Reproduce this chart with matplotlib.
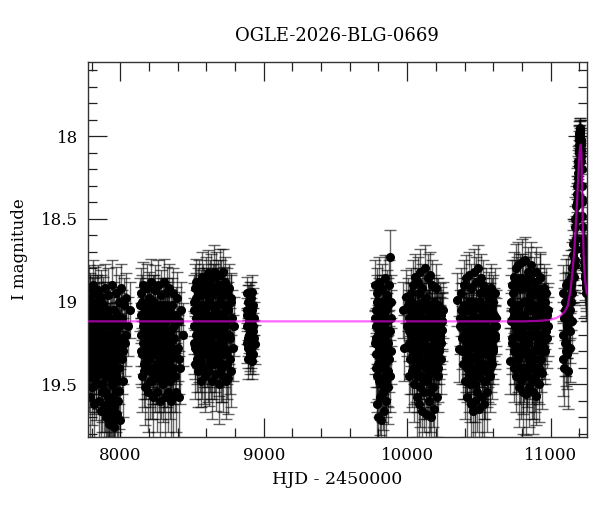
import numpy as np
import matplotlib
matplotlib.use("Agg")
import matplotlib.pyplot as plt
from matplotlib.ticker import MultipleLocator, FormatStrFormatter

# OGLE I-band photometry, one block per bulge season (HJD - 2450000, mag, err)
t1 = [7776, 7778, 7781, 7783, 7786, 7789, 7791, 7794, 7797, 7799,
      7802, 7805, 7807, 7810, 7813, 7816, 7818, 7821, 7824, 7827,
      7830, 7832, 7835, 7838, 7841, 7844, 7847, 7850, 7853, 7856,
      7859, 7862, 7865, 7868, 7871, 7874, 7877, 7880, 7884, 7887,
      7890, 7893, 7897, 7900, 7903, 7907, 7910, 7913, 7917, 7920,
      7924, 7927, 7931, 7934, 7938, 7941, 7945, 7949, 7952, 7956,
      7960, 7964, 7967, 7971, 7975, 7979, 7983, 7987, 7991, 7995,
      8000, 8004, 8009, 8014, 8020, 8026, 8033, 8041, 8050, 8064,
      7777, 7780, 7785, 7788, 7793, 7796, 7800, 7804, 7808, 7812,
      7817, 7820, 7825, 7828, 7833, 7837, 7840, 7845, 7849, 7852,
      7857, 7861, 7864, 7869, 7873, 7876, 7881, 7886, 7889, 7894,
      7898, 7902, 7905, 7909, 7914, 7918, 7922, 7926, 7929, 7933,
      7936, 7940, 7944, 7947, 7951, 7954, 7958, 7962, 7966, 7969,
      7973, 7977, 7981, 7985, 7989, 7993, 7998, 8007, 8017, 8037]
m1 = [19.05, 19.32, 18.92, 19.45, 19.12, 19.58, 18.98, 19.22, 19.38, 19.02,
      19.52, 19.15, 18.90, 19.28, 19.46, 19.08, 19.62, 19.20, 18.95, 19.35,
      19.10, 19.50, 19.00, 19.25, 19.42, 18.93, 19.18, 19.60, 19.05, 19.32,
      19.12, 19.66, 18.97, 19.40, 19.22, 19.55, 19.02, 19.30, 19.64, 19.15,
      18.92, 19.45, 19.25, 19.70, 19.08, 19.35, 19.58, 18.96, 19.20, 19.74,
      19.40, 19.10, 19.62, 19.28, 18.90, 19.50, 19.72, 19.15, 19.38, 19.76,
      19.60, 19.25, 19.45, 18.95, 19.68, 19.32, 19.12, 19.54, 19.00, 19.72,
      19.22, 18.92, 19.35, 19.10, 19.48, 19.02, 19.25, 18.98, 19.15, 19.05,
      19.20, 19.10, 19.35, 19.00, 19.28, 19.15, 19.42, 19.08, 19.25, 19.38,
      19.02, 19.30, 19.18, 19.45, 19.12, 19.22, 19.05, 19.40, 19.28, 19.14,
      19.35, 19.00, 19.25, 19.50, 19.10, 19.42, 19.20, 19.04, 19.32, 19.55,
      19.15, 19.38, 19.62, 19.05, 19.28, 19.45, 19.58, 19.20, 19.66, 19.32,
      19.12, 19.50, 19.70, 19.22, 19.42, 19.05, 19.64, 19.35, 19.55, 19.18,
      19.48, 19.08, 19.30, 19.60, 19.15, 19.40, 19.28, 19.12, 19.30, 19.20]
e1 = [0.16, 0.20, 0.14, 0.22, 0.18, 0.24, 0.15, 0.19, 0.21, 0.17,
      0.23, 0.18, 0.15, 0.20, 0.22, 0.17, 0.25, 0.19, 0.16, 0.21,
      0.18, 0.22, 0.16, 0.20, 0.23, 0.15, 0.19, 0.24, 0.17, 0.21,
      0.18, 0.25, 0.16, 0.22, 0.19, 0.24, 0.17, 0.20, 0.26, 0.18,
      0.15, 0.22, 0.20, 0.26, 0.17, 0.21, 0.24, 0.16, 0.19, 0.27,
      0.22, 0.17, 0.25, 0.20, 0.15, 0.23, 0.26, 0.18, 0.21, 0.27,
      0.24, 0.19, 0.22, 0.16, 0.25, 0.20, 0.18, 0.23, 0.16, 0.26,
      0.19, 0.15, 0.21, 0.17, 0.22, 0.16, 0.20, 0.15, 0.18, 0.17,
      0.19, 0.17, 0.21, 0.16, 0.20, 0.18, 0.22, 0.17, 0.19, 0.21,
      0.16, 0.20, 0.18, 0.22, 0.17, 0.19, 0.16, 0.22, 0.20, 0.18,
      0.21, 0.16, 0.19, 0.23, 0.17, 0.22, 0.19, 0.16, 0.20, 0.24,
      0.18, 0.21, 0.25, 0.17, 0.20, 0.22, 0.24, 0.19, 0.25, 0.21,
      0.18, 0.23, 0.26, 0.19, 0.22, 0.17, 0.25, 0.21, 0.24, 0.18,
      0.23, 0.17, 0.20, 0.24, 0.18, 0.22, 0.20, 0.17, 0.20, 0.19]

t2 = [8138, 8142, 8146, 8150, 8154, 8158, 8162, 8166, 8170, 8174,
      8178, 8182, 8186, 8190, 8194, 8198, 8202, 8206, 8210, 8214,
      8218, 8222, 8226, 8230, 8234, 8238, 8242, 8246, 8250, 8254,
      8258, 8262, 8266, 8270, 8274, 8278, 8282, 8286, 8290, 8294,
      8298, 8302, 8306, 8310, 8314, 8318, 8322, 8326, 8330, 8334,
      8338, 8342, 8346, 8350, 8354, 8358, 8362, 8366, 8370, 8375,
      8380, 8385, 8390, 8395, 8400, 8406, 8412, 8418, 8425, 8433,
      8140, 8144, 8148, 8152, 8156, 8160, 8164, 8168, 8172, 8176,
      8180, 8184, 8188, 8192, 8196, 8200, 8204, 8208, 8212, 8216,
      8220, 8224, 8228, 8232, 8236, 8240, 8244, 8248, 8252, 8256,
      8260, 8264, 8268, 8272, 8276, 8280, 8284, 8288, 8292, 8296,
      8300, 8304, 8308, 8312, 8316, 8320, 8324, 8328, 8332, 8336,
      8340, 8344, 8348, 8352, 8356, 8360, 8364, 8372, 8388, 8410]
m2 = [19.02, 19.30, 18.95, 19.45, 19.12, 18.90, 19.38, 19.20, 19.05, 19.52,
      19.15, 18.92, 19.35, 19.25, 19.55, 18.98, 19.10, 19.42, 19.28, 18.88,
      19.48, 19.18, 19.00, 19.58, 19.32, 19.08, 18.93, 19.40, 19.22, 19.55,
      19.12, 18.90, 19.45, 19.28, 19.60, 19.02, 19.35, 18.96, 19.20, 19.50,
      19.15, 18.88, 19.42, 19.58, 19.05, 19.30, 18.94, 19.25, 19.55, 19.10,
      19.38, 18.92, 19.48, 19.18, 19.60, 19.02, 19.32, 18.95, 19.58, 19.22,
      19.45, 19.08, 19.55, 18.98, 19.28, 19.58, 19.12, 19.40, 19.05, 19.20,
      19.20, 19.08, 19.32, 19.00, 19.25, 19.15, 19.42, 19.05, 19.30, 19.18,
      19.38, 19.10, 19.22, 19.02, 19.35, 19.28, 19.12, 19.48, 19.05, 19.32,
      19.22, 19.40, 19.10, 19.30, 19.00, 19.45, 19.15, 19.26, 19.38, 19.08,
      19.32, 19.18, 19.04, 19.40, 19.12, 19.48, 19.22, 19.10, 19.35, 19.02,
      19.28, 19.45, 19.08, 19.20, 19.38, 19.12, 19.02, 19.42, 19.30, 19.18,
      19.05, 19.35, 19.25, 19.45, 19.10, 19.28, 19.40, 19.15, 19.30, 19.35]
e2 = [0.16, 0.20, 0.15, 0.22, 0.18, 0.14, 0.21, 0.19, 0.17, 0.23,
      0.18, 0.15, 0.21, 0.19, 0.24, 0.16, 0.18, 0.22, 0.20, 0.14,
      0.23, 0.18, 0.16, 0.25, 0.21, 0.17, 0.15, 0.22, 0.19, 0.24,
      0.18, 0.15, 0.22, 0.20, 0.25, 0.16, 0.21, 0.15, 0.19, 0.23,
      0.18, 0.14, 0.22, 0.25, 0.17, 0.20, 0.15, 0.19, 0.24, 0.17,
      0.21, 0.15, 0.23, 0.18, 0.26, 0.16, 0.21, 0.15, 0.25, 0.19,
      0.22, 0.17, 0.24, 0.16, 0.20, 0.25, 0.18, 0.22, 0.17, 0.19,
      0.19, 0.17, 0.20, 0.16, 0.19, 0.18, 0.22, 0.17, 0.20, 0.18,
      0.21, 0.17, 0.19, 0.16, 0.21, 0.20, 0.18, 0.23, 0.17, 0.20,
      0.19, 0.22, 0.17, 0.20, 0.16, 0.22, 0.18, 0.19, 0.21, 0.17,
      0.20, 0.18, 0.16, 0.22, 0.17, 0.23, 0.19, 0.17, 0.21, 0.16,
      0.20, 0.22, 0.17, 0.19, 0.21, 0.18, 0.16, 0.22, 0.20, 0.18,
      0.17, 0.21, 0.19, 0.22, 0.17, 0.20, 0.22, 0.18, 0.20, 0.21]

t3 = [8510, 8514, 8518, 8522, 8526, 8530, 8534, 8538, 8542, 8546,
      8550, 8554, 8558, 8561, 8565, 8569, 8573, 8577, 8581, 8585,
      8589, 8593, 8597, 8601, 8605, 8609, 8613, 8617, 8621, 8625,
      8629, 8633, 8637, 8641, 8645, 8649, 8653, 8657, 8661, 8665,
      8669, 8673, 8677, 8681, 8685, 8689, 8693, 8697, 8701, 8705,
      8709, 8713, 8717, 8721, 8725, 8729, 8733, 8737, 8741, 8745,
      8749, 8753, 8757, 8761, 8765, 8769, 8774, 8779, 8784, 8789,
      8512, 8516, 8520, 8524, 8528, 8532, 8536, 8540, 8544, 8548,
      8552, 8556, 8560, 8563, 8567, 8571, 8575, 8579, 8583, 8587,
      8591, 8595, 8599, 8603, 8607, 8611, 8615, 8619, 8623, 8627,
      8631, 8635, 8639, 8643, 8647, 8651, 8655, 8659, 8663, 8667,
      8671, 8675, 8679, 8683, 8687, 8691, 8695, 8699, 8703, 8707,
      8711, 8715, 8719, 8723, 8727, 8731, 8735, 8743, 8755, 8771]
m3 = [19.00, 19.25, 18.92, 19.38, 19.10, 18.88, 19.30, 19.15, 19.42, 19.02,
      18.90, 19.35, 19.20, 19.48, 19.05, 18.85, 19.28, 19.12, 19.40, 18.95,
      19.22, 19.45, 18.88, 19.08, 19.32, 18.83, 19.18, 19.42, 19.00, 19.26,
      18.86, 19.38, 19.12, 19.48, 18.92, 19.20, 18.82, 19.35, 19.05, 19.44,
      18.85, 19.15, 19.30, 18.90, 19.50, 19.08, 18.84, 19.25, 19.40, 18.96,
      19.18, 18.82, 19.45, 19.02, 19.32, 18.88, 19.48, 19.12, 18.95, 19.38,
      19.05, 19.46, 18.92, 19.22, 19.35, 19.00, 19.42, 19.10, 19.28, 19.15,
      19.15, 19.05, 19.28, 18.98, 19.20, 19.10, 19.35, 18.95, 19.22, 19.30,
      19.08, 19.18, 18.96, 19.25, 19.38, 19.02, 19.15, 18.92, 19.32, 19.12,
      19.05, 19.30, 19.15, 18.95, 19.22, 19.40, 19.00, 19.12, 19.35, 18.90,
      19.25, 19.02, 19.30, 18.95, 19.15, 19.38, 19.08, 18.92, 19.28, 19.18,
      19.02, 19.32, 18.95, 19.20, 19.10, 19.36, 19.00, 19.15, 18.90, 19.25,
      19.40, 19.08, 19.28, 18.94, 19.15, 19.22, 19.05, 19.30, 19.20, 18.98]
e3 = [0.16, 0.19, 0.15, 0.21, 0.17, 0.14, 0.20, 0.17, 0.22, 0.16,
      0.15, 0.20, 0.18, 0.16, 0.17, 0.15, 0.19, 0.17, 0.22, 0.15,
      0.18, 0.22, 0.15, 0.17, 0.20, 0.14, 0.18, 0.21, 0.16, 0.19,
      0.15, 0.21, 0.17, 0.23, 0.15, 0.18, 0.16, 0.20, 0.17, 0.22,
      0.15, 0.17, 0.20, 0.15, 0.24, 0.17, 0.16, 0.19, 0.21, 0.15,
      0.18, 0.14, 0.22, 0.16, 0.20, 0.15, 0.23, 0.17, 0.15, 0.21,
      0.17, 0.22, 0.15, 0.18, 0.21, 0.16, 0.22, 0.17, 0.20, 0.18,
      0.17, 0.16, 0.19, 0.15, 0.18, 0.17, 0.20, 0.15, 0.18, 0.19,
      0.16, 0.18, 0.15, 0.19, 0.21, 0.16, 0.17, 0.15, 0.20, 0.17,
      0.16, 0.20, 0.17, 0.15, 0.18, 0.21, 0.16, 0.17, 0.20, 0.15,
      0.19, 0.16, 0.20, 0.15, 0.17, 0.21, 0.16, 0.15, 0.19, 0.18,
      0.16, 0.20, 0.15, 0.18, 0.17, 0.21, 0.16, 0.17, 0.15, 0.19,
      0.21, 0.16, 0.19, 0.15, 0.17, 0.18, 0.16, 0.20, 0.18, 0.15]

t4 = [8880, 8883, 8886, 8889, 8892, 8895, 8898, 8901, 8904, 8907,
      8910, 8913, 8916, 8919, 8922, 8925, 8928, 8931, 8934, 8937,
      8881, 8884, 8887, 8890, 8893, 8896, 8899, 8902, 8905, 8908,
      8911, 8914, 8917, 8920, 8923]
m4 = [19.05, 19.25, 18.95, 19.15, 19.35, 19.00, 19.20, 19.30, 18.98, 19.12,
      19.28, 19.08, 19.36, 18.94, 19.18, 19.32, 19.02, 19.22, 19.10, 19.26,
      19.15, 19.08, 19.22, 19.00, 19.28, 19.12, 19.05, 19.18, 19.32, 18.98,
      19.20, 19.10, 19.25, 19.05, 19.15]
e4 = [0.11, 0.12, 0.10, 0.11, 0.12, 0.10, 0.11, 0.12, 0.10, 0.11,
      0.12, 0.10, 0.11, 0.10, 0.11, 0.12, 0.10, 0.11, 0.10, 0.12,
      0.11, 0.10, 0.11, 0.10, 0.12, 0.11, 0.10, 0.11, 0.12, 0.10,
      0.11, 0.10, 0.11, 0.10, 0.11]

t5 = [9776, 9779, 9782, 9785, 9788, 9791, 9794, 9797, 9800, 9803,
      9806, 9809, 9812, 9815, 9818, 9821, 9824, 9827, 9830, 9833,
      9836, 9839, 9842, 9845, 9848, 9851, 9854, 9857, 9860, 9863,
      9866, 9869, 9872, 9875, 9878, 9880, 9883, 9886, 9888, 9890,
      9777, 9780, 9783, 9786, 9789, 9792, 9795, 9798, 9801, 9804,
      9807, 9810, 9813, 9816, 9819, 9822, 9825, 9828, 9831, 9834,
      9837, 9840, 9843, 9846, 9849, 9852, 9855, 9858, 9861, 9864]
m5 = [19.10, 18.90, 19.40, 19.22, 19.62, 18.95, 19.32, 19.70, 19.05, 19.48,
      18.88, 19.28, 19.58, 19.15, 19.72, 19.00, 19.38, 18.92, 19.55, 19.20,
      19.66, 19.08, 19.45, 18.86, 19.30, 19.60, 19.12, 19.42, 18.96, 19.25,
      19.52, 19.02, 19.35, 18.90, 19.18, 18.73, 19.45, 19.10, 19.30, 19.00,
      19.25, 19.05, 19.32, 19.15, 19.45, 19.00, 19.20, 19.38, 19.10, 19.28,
      19.02, 19.40, 19.18, 19.30, 19.08, 19.50, 19.22, 19.12, 19.35, 19.05,
      19.28, 19.15, 19.38, 19.00, 19.48, 19.20, 19.05, 19.32, 19.12, 19.42]
e5 = [0.17, 0.15, 0.21, 0.18, 0.24, 0.15, 0.20, 0.26, 0.16, 0.22,
      0.15, 0.19, 0.23, 0.17, 0.26, 0.16, 0.21, 0.15, 0.23, 0.18,
      0.25, 0.17, 0.22, 0.14, 0.20, 0.24, 0.17, 0.21, 0.15, 0.19,
      0.22, 0.16, 0.20, 0.15, 0.18, 0.16, 0.22, 0.17, 0.20, 0.16,
      0.19, 0.16, 0.20, 0.17, 0.22, 0.16, 0.18, 0.21, 0.17, 0.19,
      0.16, 0.22, 0.18, 0.20, 0.17, 0.23, 0.19, 0.17, 0.21, 0.16,
      0.19, 0.17, 0.21, 0.16, 0.22, 0.18, 0.16, 0.20, 0.17, 0.22]

t6 = [9972, 9980, 9990, 9998, 10004, 10010, 10015, 10020, 10025, 10030,
      10034, 10038, 10042, 10046, 10050, 10054, 10058, 10062, 10066, 10070,
      10074, 10078, 10082, 10086, 10090, 10094, 10098, 10102, 10106, 10110,
      10114, 10118, 10122, 10126, 10130, 10134, 10138, 10142, 10146, 10150,
      10154, 10158, 10162, 10166, 10170, 10174, 10178, 10182, 10186, 10190,
      10194, 10198, 10202, 10206, 10210, 10214, 10218, 10222, 10226, 10230,
      10234, 10238, 10242, 10245, 10248, 10015, 10060, 10120, 10170, 10200,
      10012, 10018, 10022, 10027, 10032, 10036, 10040, 10044, 10048, 10052,
      10056, 10064, 10068, 10072, 10076, 10080, 10084, 10088, 10092, 10096,
      10100, 10104, 10108, 10112, 10116, 10124, 10128, 10132, 10136, 10140,
      10144, 10148, 10152, 10156, 10160, 10164, 10168, 10172, 10176, 10180,
      10184, 10188, 10192, 10196, 10204, 10208, 10212, 10216, 10220, 10224,
      10228, 10232, 10236, 10240, 10110, 10130, 10090, 10150, 10070, 10180]
m6 = [19.05, 19.28, 18.97, 19.15, 19.02, 19.25, 19.10, 19.35, 18.95, 19.20,
      19.42, 19.05, 18.90, 19.30, 19.50, 19.12, 18.85, 19.40, 19.22, 19.58,
      18.88, 19.32, 19.62, 19.08, 18.82, 19.45, 19.18, 19.66, 18.92, 19.38,
      19.55, 19.00, 18.80, 19.28, 19.68, 19.12, 19.48, 18.86, 19.35, 19.60,
      19.05, 18.84, 19.42, 19.70, 19.20, 18.90, 19.52, 19.32, 19.65, 19.00,
      19.40, 18.92, 19.25, 19.58, 19.10, 19.45, 19.02, 19.30, 19.15, 19.22,
      19.08, 19.35, 19.12, 19.17, 19.05, 19.45, 19.25, 19.15, 19.10, 19.30,
      19.18, 19.05, 19.28, 19.12, 19.35, 19.00, 19.25, 19.15, 19.40, 19.08,
      19.30, 19.20, 19.02, 19.45, 19.12, 19.35, 18.95, 19.25, 19.52, 19.10,
      19.38, 19.05, 19.28, 19.15, 19.48, 19.22, 18.98, 19.40, 19.10, 19.32,
      19.18, 19.45, 19.02, 19.28, 19.55, 19.12, 19.35, 19.05, 19.42, 19.22,
      19.15, 19.30, 19.08, 19.25, 19.35, 19.02, 19.20, 19.40, 19.12, 19.28,
      19.20, 19.05, 19.25, 19.12, 19.00, 19.20, 19.30, 19.10, 19.15, 19.38]
e6 = [0.17, 0.20, 0.16, 0.18, 0.16, 0.19, 0.17, 0.21, 0.15, 0.19,
      0.22, 0.16, 0.15, 0.20, 0.23, 0.17, 0.14, 0.21, 0.19, 0.24,
      0.15, 0.20, 0.25, 0.17, 0.14, 0.22, 0.18, 0.26, 0.15, 0.21,
      0.24, 0.16, 0.14, 0.20, 0.26, 0.17, 0.23, 0.15, 0.21, 0.25,
      0.16, 0.14, 0.22, 0.27, 0.19, 0.15, 0.24, 0.20, 0.25, 0.16,
      0.22, 0.15, 0.19, 0.24, 0.17, 0.22, 0.16, 0.20, 0.18, 0.19,
      0.17, 0.21, 0.18, 0.19, 0.17, 0.22, 0.19, 0.18, 0.17, 0.20,
      0.18, 0.16, 0.19, 0.17, 0.21, 0.16, 0.19, 0.17, 0.22, 0.16,
      0.20, 0.18, 0.16, 0.22, 0.17, 0.21, 0.15, 0.19, 0.24, 0.17,
      0.21, 0.16, 0.19, 0.17, 0.23, 0.19, 0.15, 0.22, 0.17, 0.20,
      0.18, 0.22, 0.16, 0.19, 0.24, 0.17, 0.21, 0.16, 0.22, 0.19,
      0.18, 0.20, 0.17, 0.19, 0.21, 0.16, 0.18, 0.21, 0.17, 0.19,
      0.18, 0.16, 0.19, 0.17, 0.16, 0.18, 0.20, 0.17, 0.18, 0.21]

t7 = [10351, 10360, 10368, 10374, 10380, 10386, 10391, 10396, 10400, 10404,
      10408, 10412, 10416, 10420, 10424, 10428, 10432, 10436, 10440, 10444,
      10448, 10452, 10456, 10460, 10464, 10468, 10472, 10476, 10480, 10484,
      10488, 10492, 10496, 10500, 10504, 10508, 10512, 10516, 10520, 10524,
      10528, 10532, 10536, 10540, 10544, 10548, 10552, 10556, 10560, 10564,
      10568, 10572, 10576, 10580, 10584, 10588, 10592, 10596, 10600, 10605,
      10610, 10615, 10620, 10410, 10450, 10490, 10530, 10570, 10470, 10510,
      10370, 10377, 10383, 10388, 10393, 10398, 10402, 10406, 10414, 10418,
      10422, 10426, 10430, 10434, 10438, 10442, 10446, 10454, 10458, 10462,
      10466, 10474, 10478, 10482, 10486, 10494, 10498, 10502, 10506, 10514,
      10518, 10522, 10526, 10534, 10538, 10542, 10546, 10550, 10554, 10558,
      10562, 10566, 10574, 10578, 10582, 10586, 10590, 10594, 10598, 10602,
      10607, 10612, 10617, 10440, 10480, 10520, 10560, 10500, 10460, 10540]
m7 = [18.99, 19.29, 19.10, 18.95, 19.22, 19.38, 19.05, 18.90, 19.30, 19.48,
      19.12, 18.86, 19.40, 19.58, 19.02, 19.25, 18.84, 19.50, 19.15, 19.62,
      18.92, 19.35, 19.66, 19.08, 18.82, 19.45, 19.20, 19.60, 18.88, 19.32,
      19.55, 19.00, 18.80, 19.42, 19.65, 19.15, 18.86, 19.28, 19.58, 19.05,
      19.38, 18.90, 19.62, 19.20, 19.48, 18.95, 19.30, 19.55, 19.10, 19.40,
      18.98, 19.25, 19.45, 19.05, 19.35, 18.92, 19.18, 19.28, 19.00, 19.15,
      19.22, 18.95, 19.10, 19.35, 19.00, 19.25, 19.12, 19.30, 19.45, 18.95,
      19.15, 19.05, 19.30, 19.10, 19.20, 19.02, 19.38, 19.12, 19.25, 19.05,
      19.32, 19.18, 19.45, 19.00, 19.28, 19.12, 19.40, 19.22, 19.05, 19.35,
      19.15, 19.50, 19.02, 19.28, 19.40, 19.10, 19.22, 19.45, 19.00, 19.32,
      19.12, 19.38, 19.25, 19.02, 19.48, 19.15, 19.30, 19.08, 19.42, 19.20,
      19.32, 19.05, 19.18, 19.40, 19.10, 19.25, 19.38, 19.02, 19.20, 19.30,
      19.08, 19.20, 19.15, 19.25, 19.35, 19.18, 19.25, 19.35, 19.10, 19.05]
e7 = [0.16, 0.20, 0.17, 0.15, 0.19, 0.21, 0.16, 0.15, 0.20, 0.23,
      0.17, 0.14, 0.21, 0.24, 0.16, 0.19, 0.14, 0.23, 0.18, 0.25,
      0.15, 0.20, 0.26, 0.17, 0.14, 0.22, 0.18, 0.25, 0.15, 0.20,
      0.24, 0.16, 0.14, 0.21, 0.26, 0.17, 0.15, 0.19, 0.24, 0.16,
      0.21, 0.15, 0.25, 0.18, 0.23, 0.15, 0.20, 0.24, 0.17, 0.21,
      0.16, 0.19, 0.22, 0.16, 0.20, 0.15, 0.18, 0.19, 0.16, 0.18,
      0.19, 0.15, 0.17, 0.20, 0.16, 0.19, 0.17, 0.20, 0.22, 0.15,
      0.17, 0.16, 0.20, 0.17, 0.18, 0.16, 0.21, 0.17, 0.19, 0.16,
      0.20, 0.18, 0.22, 0.16, 0.19, 0.17, 0.22, 0.19, 0.16, 0.21,
      0.17, 0.23, 0.16, 0.19, 0.22, 0.17, 0.19, 0.22, 0.16, 0.20,
      0.17, 0.21, 0.19, 0.16, 0.23, 0.17, 0.20, 0.16, 0.22, 0.18,
      0.20, 0.16, 0.18, 0.22, 0.17, 0.19, 0.21, 0.16, 0.18, 0.20,
      0.16, 0.18, 0.17, 0.19, 0.21, 0.18, 0.19, 0.21, 0.17, 0.16]

t8 = [10716, 10722, 10728, 10733, 10738, 10742, 10746, 10750, 10754, 10758,
      10762, 10766, 10770, 10774, 10778, 10782, 10786, 10790, 10794, 10798,
      10802, 10806, 10810, 10814, 10818, 10822, 10826, 10830, 10834, 10838,
      10842, 10846, 10850, 10854, 10858, 10862, 10866, 10870, 10874, 10878,
      10882, 10886, 10890, 10894, 10897, 10900, 10904, 10908, 10912, 10916,
      10920, 10924, 10928, 10932, 10936, 10940, 10944, 10948, 10952, 10958,
      10964, 10970, 10976, 10982, 10740, 10780, 10820, 10860, 10900, 10930,
      10724, 10730, 10735, 10744, 10748, 10752, 10756, 10760, 10764, 10768,
      10772, 10776, 10784, 10788, 10792, 10796, 10800, 10804, 10808, 10812,
      10816, 10824, 10828, 10832, 10836, 10840, 10844, 10848, 10852, 10856,
      10864, 10868, 10872, 10876, 10880, 10884, 10888, 10892, 10895, 10902,
      10906, 10910, 10914, 10918, 10922, 10926, 10934, 10938, 10942, 10946,
      10950, 10955, 10961, 10967, 10973, 10979, 10790, 10830, 10870, 10910]
m8 = [19.36, 19.00, 18.90, 19.22, 19.05, 19.40, 18.85, 19.15, 19.30, 18.80,
      19.45, 19.10, 18.78, 19.35, 19.52, 19.02, 18.86, 19.28, 19.48, 18.76,
      19.18, 19.55, 18.92, 19.40, 19.08, 18.75, 19.32, 19.56, 19.00, 19.45,
      18.82, 19.25, 19.52, 18.96, 19.38, 19.12, 18.78, 19.48, 19.20, 19.55,
      18.88, 19.30, 19.05, 19.45, 19.57, 18.82, 19.15, 19.40, 18.95, 19.28,
      19.50, 18.86, 19.20, 19.35, 18.98, 19.25, 19.43, 19.08, 18.92, 19.30,
      19.12, 18.95, 19.22, 19.05, 19.10, 19.20, 19.30, 19.00, 19.15, 18.85,
      19.12, 19.25, 18.95, 19.30, 19.08, 18.90, 19.35, 19.02, 19.20, 18.88,
      19.28, 19.05, 19.40, 18.92, 19.15, 19.32, 18.86, 19.22, 19.45, 19.00,
      19.30, 19.10, 18.88, 19.25, 19.42, 19.05, 18.92, 19.35, 19.15, 18.85,
      19.32, 19.02, 19.40, 19.12, 18.95, 19.48, 19.20, 19.05, 19.35, 19.10,
      18.92, 19.28, 19.12, 19.40, 19.02, 19.22, 19.12, 19.30, 19.05, 19.20,
      19.10, 19.28, 19.00, 19.18, 19.08, 19.15, 19.12, 19.20, 19.05, 19.25]
e8 = [0.20, 0.16, 0.15, 0.18, 0.16, 0.21, 0.15, 0.17, 0.20, 0.15,
      0.22, 0.17, 0.14, 0.20, 0.24, 0.16, 0.15, 0.19, 0.23, 0.14,
      0.18, 0.25, 0.15, 0.21, 0.17, 0.14, 0.20, 0.25, 0.16, 0.22,
      0.15, 0.19, 0.24, 0.15, 0.21, 0.17, 0.14, 0.23, 0.18, 0.25,
      0.15, 0.20, 0.16, 0.22, 0.18, 0.15, 0.17, 0.21, 0.15, 0.19,
      0.23, 0.15, 0.18, 0.20, 0.16, 0.19, 0.22, 0.17, 0.15, 0.20,
      0.17, 0.15, 0.18, 0.16, 0.17, 0.18, 0.20, 0.16, 0.17, 0.15,
      0.17, 0.19, 0.15, 0.20, 0.17, 0.15, 0.21, 0.16, 0.18, 0.15,
      0.19, 0.16, 0.22, 0.15, 0.17, 0.21, 0.15, 0.18, 0.23, 0.16,
      0.20, 0.17, 0.15, 0.19, 0.22, 0.16, 0.15, 0.21, 0.17, 0.15,
      0.21, 0.16, 0.22, 0.17, 0.15, 0.23, 0.18, 0.16, 0.21, 0.17,
      0.15, 0.19, 0.17, 0.22, 0.16, 0.19, 0.17, 0.20, 0.16, 0.18,
      0.17, 0.19, 0.16, 0.18, 0.17, 0.18, 0.17, 0.19, 0.16, 0.19]

# event season
t9 = [11085, 11090, 11095, 11100, 11105, 11110, 11115, 11120, 11125, 11130,
      11135, 11140, 11145, 11150, 11155, 11160, 11164, 11168, 11172, 11176,
      11180, 11183, 11186, 11189, 11192, 11195, 11197, 11199, 11201, 11203,
      11205, 11207, 11209, 11211, 11213, 11215, 11217, 11219, 11221, 11223,
      11225, 11227, 11229, 11231, 11233, 11235, 11238, 11241, 11244, 11247,
      11250, 11252, 11088, 11108, 11128, 11148, 11170, 11190, 11200, 11210,
      11092, 11098, 11103, 11112, 11118, 11123, 11133, 11138, 11143, 11153,
      11158, 11162, 11166, 11174, 11178, 11182, 11185, 11188, 11191, 11194,
      11198, 11202, 11204, 11206, 11212, 11216, 11222, 11230, 11240, 11249]
m9 = [19.20, 18.95, 19.40, 19.05, 19.30, 18.90, 19.15, 19.42, 18.88, 19.10,
      19.28, 18.85, 19.00, 18.80, 18.72, 18.85, 18.65, 18.75, 18.55, 18.62,
      18.42, 18.50, 18.35, 18.28, 18.22, 18.15, 18.08, 18.02, 18.00, 17.96,
      17.95, 17.98, 18.00, 18.03, 18.08, 18.12, 18.20, 18.30, 18.38, 18.48,
      18.55, 18.62, 18.68, 18.72, 18.76, 18.80, 18.84, 18.86, 18.88, 18.90,
      18.92, 18.95, 19.35, 19.25, 19.05, 19.12, 18.78, 18.25, 18.10, 18.02,
      19.10, 19.25, 19.00, 19.15, 19.32, 18.98, 19.05, 19.18, 18.90, 18.95,
      18.65, 18.85, 18.78, 18.50, 18.68, 18.40, 18.48, 18.30, 18.38, 18.18,
      18.05, 17.98, 18.02, 17.96, 18.05, 18.15, 18.40, 18.65, 18.80, 18.95]
e9 = [0.20, 0.17, 0.23, 0.18, 0.21, 0.16, 0.19, 0.23, 0.16, 0.18,
      0.21, 0.16, 0.17, 0.16, 0.15, 0.16, 0.14, 0.15, 0.13, 0.14,
      0.12, 0.12, 0.11, 0.10, 0.10, 0.09, 0.08, 0.08, 0.07, 0.07,
      0.06, 0.07, 0.07, 0.07, 0.08, 0.08, 0.08, 0.09, 0.10, 0.11,
      0.12, 0.12, 0.13, 0.14, 0.14, 0.15, 0.15, 0.16, 0.16, 0.16,
      0.17, 0.17, 0.22, 0.20, 0.18, 0.19, 0.15, 0.10, 0.08, 0.07,
      0.18, 0.20, 0.17, 0.19, 0.21, 0.16, 0.17, 0.19, 0.16, 0.17,
      0.15, 0.17, 0.16, 0.13, 0.15, 0.12, 0.13, 0.11, 0.12, 0.10,
      0.08, 0.07, 0.07, 0.06, 0.07, 0.08, 0.10, 0.13, 0.15, 0.17]

# best-fit model
model_t = [7771, 10800, 10900, 10950, 11000, 11040, 11070, 11100, 11120, 11140,
           11155, 11165, 11175, 11185, 11195, 11202, 11207, 11211, 11215, 11220,
           11226, 11232, 11240, 11247, 11253]
model_m = [19.12, 19.12, 19.118, 19.115, 19.11, 19.10, 19.085, 19.06, 19.025, 18.93,
           18.80, 18.70, 18.56, 18.40, 18.20, 18.10, 18.06, 18.05, 18.10, 18.32,
           18.56, 18.75, 18.86, 18.92, 18.95]

hjd = np.concatenate([t1, t2, t3, t4, t5, t6, t7, t8, t9])
mag = np.concatenate([m1, m2, m3, m4, m5, m6, m7, m8, m9])
err = np.concatenate([e1, e2, e3, e4, e5, e6, e7, e8, e9])

plt.rcParams['font.family'] = ['DejaVu Serif']
plt.rcParams['font.size'] = 12

fig = plt.figure(figsize=(6, 5.12), dpi=100)
ax = fig.add_axes([0.146, 0.1465, 0.832, 0.7325])

ax.errorbar(hjd, mag, yerr=err, fmt='o', ms=5.5, mfc='k', mec='k',
            ecolor=(0, 0, 0, 0.6), elinewidth=1.0, capsize=4, capthick=1.0, zorder=2)
ax.plot(model_t, model_m, color='#ff00ff', lw=1.6, alpha=0.6, zorder=3)

ax.set_xlim(7771, 11253)
ax.set_ylim(19.82, 17.55)

ax.xaxis.set_major_locator(MultipleLocator(1000))
ax.xaxis.set_minor_locator(MultipleLocator(200))
ax.yaxis.set_major_locator(MultipleLocator(0.5))
ax.yaxis.set_minor_locator(MultipleLocator(0.1))
ax.yaxis.set_major_formatter(FormatStrFormatter('%g'))
ax.tick_params(which='both', direction='in', top=True, right=True, color='#222222', width=0.9)
ax.tick_params(which='major', length=13.5, pad=7)
ax.tick_params(which='minor', length=6.5)
for s in ax.spines.values():
    s.set_color('#333333')
    s.set_linewidth(1.0)

ax.set_title('OGLE-2026-BLG-0669', fontsize=13, pad=15)
ax.set_xlabel('HJD - 2450000', fontsize=12.5, labelpad=5)
ax.set_ylabel('I magnitude', fontsize=12, labelpad=9)

fig.savefig('out.png', dpi=100)
